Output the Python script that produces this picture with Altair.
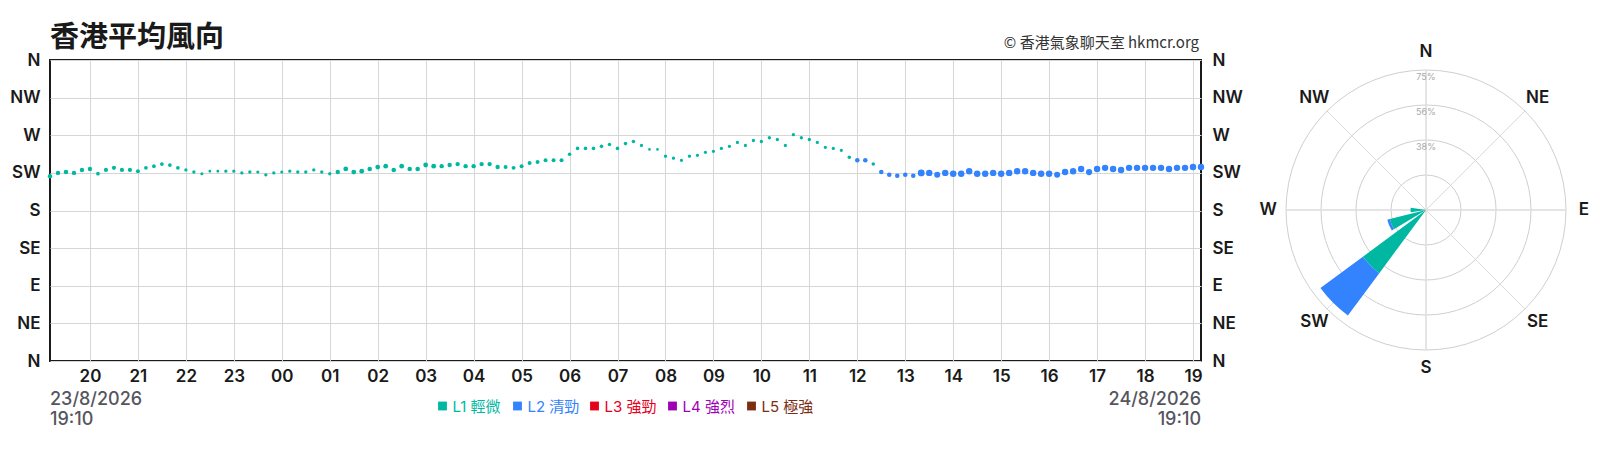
import math

import altair as alt
import pandas as pd

# ---------------- data ----------------
TITLE = "香港平均風向"
CREDIT = "© 香港氣象聊天室 hkmcr.org"
START_DATE, START_TIME = "23/8/2026", "19:10"
END_DATE, END_TIME = "24/8/2026", "19:10"
START_STAMP = "2026-08-23 19:10"

# 10-minute mean wind direction (degrees), 19:10 -> 19:10 next day
direction = [
    221, 225, 226, 225, 228.5, 229.7, 224, 228.5, 231, 228.5, 228.5, 227,
    231, 233, 235.5, 234.4, 231, 228.5, 226, 224, 227, 227, 227, 227,
    225, 226, 226, 222.7, 225, 226, 227, 226, 226, 228.5, 226, 224,
    226, 229.7, 226, 227, 229.7, 232, 233, 228.5, 233, 229.7, 229.7, 234.4,
    233, 233, 234.4, 235.5, 233, 233, 235.5, 235.5, 232, 232, 231, 233,
    236.7, 238, 240, 240, 240, 247.3, 254.3, 254.3, 254.3, 256.7, 259, 254.3,
    260, 262.5, 257.8, 253, 253, 245, 242.6, 240, 245, 246, 249.6, 250.8,
    254.3, 256.7, 261.4, 257.8, 263.7, 262.5, 267, 264.9, 257.8, 270.7, 267, 264.9,
    261.4, 255.5, 254.3, 252, 243.8, 240, 240, 235.5, 226, 222.7, 221.5, 222.7,
    221.5, 225, 225, 222.7, 225, 224, 224, 227, 224, 224, 225, 224,
    225, 227, 227, 225, 224, 224, 222.7, 226, 227, 229.7, 226, 229.7,
    231, 229.7, 228.5, 231, 231, 231, 231, 231, 229.7, 231, 231, 232,
    232,
]

# mean wind speed (km/h)
speed = [
    21, 21, 22, 21, 21, 21, 18, 20, 20, 20, 20, 19,
    18, 18, 18, 18, 18, 16, 16, 15, 14, 14, 16, 16,
    16, 16, 15, 16, 16, 15, 16, 16, 16, 16, 16, 16,
    21, 23, 23, 23, 22, 23, 23, 22, 23, 22, 22, 23,
    23, 21, 21, 21, 21, 21, 21, 21, 21, 19, 19, 19,
    19, 19, 19, 19, 19, 17, 17, 17, 17, 17, 17, 17,
    17, 17, 16, 13, 13, 16, 16, 16, 16, 16, 16, 16,
    16, 16, 16, 16, 16, 16, 16, 16, 16, 16, 16, 16,
    16, 16, 16, 16, 17, 22, 22, 17, 22, 22, 22, 22,
    22, 33, 31, 29, 31, 31, 31, 31, 31, 31, 31, 31,
    31, 31, 31, 31, 31, 31, 29, 31, 31, 31, 30, 31,
    31, 31, 31, 31, 31, 31, 31, 31, 31, 31, 31, 31,
    31,
]

# wind level of each reading, as runs of (level index, count)
LEVEL_RUNS = [(0, 101), (1, 2), (0, 1), (1, 41)]

LEVELS = ["L1 輕微", "L2 清勁", "L3 強勁", "L4 強烈", "L5 極強"]
LEVEL_COLORS = ["#00b8a2", "#3283fd", "#e5001c", "#a000b4", "#7b2e14"]
# legend swatch centres (px from the plot's left edge)
LEGEND_X = [392.5, 467.5, 544.5, 622.5, 701.5]

COMPASS_TICKS = ["N", "NE", "E", "SE", "S", "SW", "W", "NW", "N"]
ROSE_DIRS = ["N", "NE", "E", "SE", "S", "SW", "W", "NW"]
ROSE_ANGLES = [0, 45, 90, 135, 180, 225, 270, 315]
RING_VALUES = [18.75, 37.5, 56.25, 75]
RING_LABELS = ["", "38%", "56%", "75%"]

# ---------------- tables ----------------
level = []
for idx, cnt in LEVEL_RUNS:
    level += [LEVELS[idx]] * cnt

n = min(len(direction), len(speed), len(level))
direction, speed, level = direction[:n], speed[:n], level[:n]
times = pd.date_range(START_STAMP, periods=n, freq="10min").strftime("%Y-%m-%dT%H:%M:%S")
main_df = pd.DataFrame({"time": list(times), "direction": direction, "speed": speed, "level": level})

SECTOR = 22.5
HALF_WIDTH = 8.5
sector = ((main_df["direction"] + SECTOR / 2) % 360 // SECTOR).astype(int)
rose_rows = []
for s in sorted(sector.unique()):
    base = 0.0
    for lv in LEVELS:
        c = int(((sector == s) & (main_df["level"] == lv)).sum())
        if c == 0:
            continue
        p = c / n * 100
        ang = s * SECTOR
        rose_rows.append({"t0": ang - HALF_WIDTH, "t1": ang + HALF_WIDTH,
                          "r0": base, "r1": base + p, "level": lv})
        base += p
rose_df = pd.DataFrame(rose_rows)

ring_df = pd.DataFrame({"r": RING_VALUES, "t0": 0, "t1": 360, "label": RING_LABELS})
spoke_df = pd.DataFrame({"a": ROSE_ANGLES, "r": 75})
dir_df = pd.DataFrame({"a": ROSE_ANGLES, "label": ROSE_DIRS, "r": 84.6})
legend_df = pd.DataFrame({"level": LEVELS, "lx": LEGEND_X})

# ---------------- layout constants ----------------
W, H = 1151, 301
CX, CY = 1376, 150
LATIN = "Inter"
MIXED = "Inter, Noto Sans CJK TC"
DARK = "#1a1a1a"
GRID = "#d6d6d6"

theta_scale = alt.Scale(domain=[0, 360], range=[0, 2 * math.pi])
radius_scale = alt.Scale(type="linear", domain=[0, 75], range=[0, 140], zero=True)
color_scale = alt.Scale(domain=LEVELS, range=LEVEL_COLORS)
y_scale = alt.Scale(domain=[0, 360], nice=False, zero=False)
legend_x_scale = alt.Scale(domain=[0, W], range=[0, W], nice=False, zero=False)

label_expr = "['N','NE','E','SE','S','SW','W','NW','N'][round(datum.value/45)]"

common_axis = dict(title=None, ticks=False, domain=False, labelFontSize=17,
                   labelFontWeight=600, labelColor=DARK, labelFont=LATIN,
                   labelFlush=False, labelOverlap=False)

y_left = alt.Axis(orient="left", values=list(range(0, 361, 45)), labelExpr=label_expr,
                  grid=True, gridColor=GRID, labelPadding=10, **common_axis)
y_right = alt.Axis(orient="right", values=list(range(0, 361, 45)), labelExpr=label_expr,
                   grid=False, labelPadding=11, **common_axis)
x_axis = alt.Axis(format="%H", tickCount=24, grid=True,
                  gridColor=GRID, labelPadding=7, **common_axis)

x_enc = alt.X("time:T", axis=x_axis, scale=alt.Scale(
    domain=[alt.DateTime(year=2026, month=8, date=23, hours=19, minutes=10),
            alt.DateTime(year=2026, month=8, date=24, hours=19, minutes=10)], nice=False))

points = alt.Chart(main_df).mark_circle(opacity=1).encode(
    x=x_enc,
    y=alt.Y("direction:Q", scale=y_scale, axis=y_left),
    color=alt.Color("level:N", scale=color_scale, legend=None),
    size=alt.Size("speed:Q", scale=alt.Scale(type="pow", exponent=2, domain=[0, 35], range=[0, 53]),
                  legend=None),
)

right_axis = alt.Chart(pd.DataFrame({"d": [0, 360]})).mark_tick(opacity=0).encode(
    y=alt.Y("d:Q", scale=y_scale, axis=y_right)
)

center = dict(x=alt.value(CX), y=alt.value(CY))

rings = alt.Chart(ring_df).mark_arc(fill="transparent", stroke="#cfcfcf", strokeWidth=1).encode(
    theta=alt.Theta("t0:Q", stack=None, scale=theta_scale), theta2="t1:Q",
    radius=alt.Radius("r:Q", scale=radius_scale), **center)

spokes = alt.Chart(spoke_df).mark_arc(fill="transparent", stroke="#dcdcdc", strokeWidth=1).encode(
    theta=alt.Theta("a:Q", stack=None, scale=theta_scale), theta2="a:Q",
    radius=alt.Radius("r:Q", scale=radius_scale), **center)

bars = alt.Chart(rose_df).mark_arc(strokeWidth=0).encode(
    theta=alt.Theta("t0:Q", stack=None, scale=theta_scale), theta2="t1:Q",
    radius=alt.Radius("r1:Q", scale=radius_scale), radius2="r0:Q",
    color=alt.Color("level:N", scale=color_scale, legend=None), **center)

pct_labels = alt.Chart(ring_df[ring_df["label"] != ""]).mark_text(
    baseline="top", dy=3, fontSize=9, color="#a8a8a8", font=LATIN).encode(
    theta=alt.Theta("t0:Q", stack=None, scale=theta_scale),
    radius=alt.Radius("r:Q", scale=radius_scale), text="label:N", **center)

dir_labels = alt.Chart(dir_df).mark_text(
    baseline="middle", align="center", fontSize=17, fontWeight=600, color=DARK, font=LATIN).encode(
    theta=alt.Theta("a:Q", stack=None, scale=theta_scale),
    radius=alt.Radius("r:Q", scale=radius_scale), text="label:N", **center)

# legend: coloured squares and coloured labels
legend_swatch = alt.Chart(legend_df).mark_square(size=78, opacity=1).encode(
    x=alt.X("lx:Q", scale=legend_x_scale, axis=None),
    y=alt.value(346),
    color=alt.Color("level:N", scale=color_scale, legend=None))
legend_text = alt.Chart(legend_df).mark_text(
    align="left", baseline="middle", dx=10, fontSize=15, font=MIXED).encode(
    x=alt.X("lx:Q", scale=legend_x_scale, axis=None),
    y=alt.value(346.5),
    text="level:N",
    color=alt.Color("level:N", scale=color_scale, legend=None))


def text_layer(txt, x, y, **kw):
    return alt.Chart(pd.DataFrame({"t": [txt]})).mark_text(**kw).encode(
        text="t:N", x=alt.value(x), y=alt.value(y))


title = text_layer(TITLE, 0, -13.5, align="left", baseline="alphabetic", fontSize=29,
                   fontWeight="bold", font="Noto Sans CJK TC", color=DARK)
credit = text_layer(CREDIT, W - 2, -12, align="right", baseline="alphabetic", fontSize=15,
                    font="Noto Sans CJK TC", color="#333333")
date_style = dict(baseline="alphabetic", fontSize=18, fontWeight=500, font=LATIN, color="#55555e")
d1 = text_layer(START_DATE, 0, 345, align="left", **date_style)
d2 = text_layer(START_TIME, 0, 365, align="left", **date_style)
d3 = text_layer(END_DATE, W, 345, align="right", **date_style)
d4 = text_layer(END_TIME, W, 365, align="right", **date_style)

main_layer = alt.layer(points, right_axis).resolve_axis(y="independent")
legend_layer = alt.layer(legend_swatch, legend_text)

chart = alt.layer(
    main_layer, rings, spokes, bars, pct_labels, dir_labels, legend_layer,
    title, credit, d1, d2, d3, d4,
).resolve_scale(x="independent").properties(
    width=W, height=H,
    autosize=alt.AutoSizeParams(type="none"),
    padding={"left": 42, "top": 52, "right": 411, "bottom": 81},
).configure(font=LATIN).configure_view(stroke=DARK, strokeWidth=2)

chart.save("out.html", embed_options={"renderer": "svg", "actions": False})
